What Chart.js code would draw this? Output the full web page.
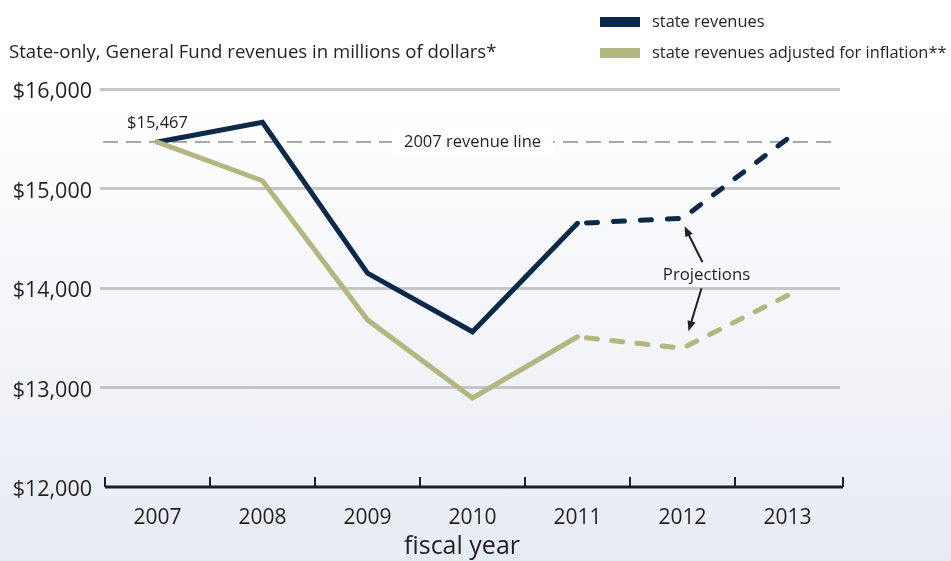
<!DOCTYPE html>
<html>
<head>
<meta charset="utf-8">
<title>State-only General Fund revenues</title>
<script src="https://cdn.jsdelivr.net/npm/chart.js"></script>
<style>
    body { margin: 0; padding: 0; background: linear-gradient(to bottom, #ffffff 0%, #ffffff 18%, #e7ebf3 100%); }
    #wrap { position: relative; width: 951px; height: 561px; }
</style>
</head>
<body>
<div id="wrap">
    <canvas id="revChart" width="951" height="561"></canvas>
</div>

<script>
    // fiscal years on the x axis
    var years = ['2007', '2008', '2009', '2010', '2011', '2012', '2013'];

    // millions of dollars
    var stateRevenues    = [15467, 15665, 14150, 13560, 14650, 14700, 15500];
    var adjustedRevenues = [15467, 15078, 13680, 12895, 13510, 13395, 13925];

    var yTicks = [12000, 13000, 14000, 15000, 16000];
    var baseRevenue = 15467;      // 2007 revenue line
    var lastActual = 4;           // index of 2011, dashed after this

    var chartTitle = 'State-only, General Fund revenues in millions of dollars*';
    var seriesNames = ['state revenues', 'state revenues adjusted for inflation**'];
    var refLabel = '2007 revenue line';
    var projLabel = 'Projections';
    var xTitle = 'fiscal year';

    var navy = '#0c2949';
    var khaki = '#b3b77f';
    var ink = '#231f20';
    var fontName = '"Open Sans", sans-serif';

    function money(v) {
        return '$' + Number(v).toLocaleString('en-US');
    }

    function arrow(ctx, x1, y1, x2, y2) {
        var ang = Math.atan2(y2 - y1, x2 - x1);
        var len = 11, spread = 0.38;
        ctx.beginPath();
        ctx.moveTo(x1, y1);
        ctx.lineTo(x2 - Math.cos(ang) * 6, y2 - Math.sin(ang) * 6);
        ctx.stroke();
        ctx.beginPath();
        ctx.moveTo(x2, y2);
        ctx.lineTo(x2 - len * Math.cos(ang - spread), y2 - len * Math.sin(ang - spread));
        ctx.lineTo(x2 - len * Math.cos(ang + spread), y2 - len * Math.sin(ang + spread));
        ctx.closePath();
        ctx.fill();
    }

    // reference line, x axis, labels, arrows, title and legend
    var extras = {
        id: 'extras',
        beforeDatasetsDraw: function(chart) {
            var ctx = chart.ctx, area = chart.chartArea;
            var xs = chart.scales.x, ys = chart.scales.y;
            var yBase = ys.getPixelForValue(baseRevenue);
            var labelX = xs.getPixelForValue(3);
            ctx.save();

            // 2007 revenue line
            ctx.strokeStyle = '#8c8c8c';
            ctx.lineWidth = 1.6;
            ctx.setLineDash([15, 8]);
            ctx.beginPath();
            ctx.moveTo(area.left - 2, yBase);
            ctx.lineTo(area.right - 5, yBase);
            ctx.stroke();
            ctx.setLineDash([]);

            ctx.font = '16.5px ' + fontName;
            var w = ctx.measureText(refLabel).width;
            ctx.fillStyle = 'rgba(255,255,255,0.97)';
            ctx.fillRect(labelX - w / 2 - 12, yBase - 12, w + 24, 25);
            ctx.fillStyle = ink;
            ctx.textAlign = 'center';
            ctx.textBaseline = 'middle';
            ctx.fillText(refLabel, labelX, yBase);

            // $15,467 label over the first point
            ctx.fillText(money(baseRevenue), xs.getPixelForValue(0), yBase - 19);

            // x axis with upward ticks at category borders
            var half = (xs.getPixelForValue(1) - xs.getPixelForValue(0)) / 2;
            ctx.strokeStyle = ink;
            ctx.lineWidth = 3;
            ctx.beginPath();
            ctx.moveTo(area.left, area.bottom);
            ctx.lineTo(area.right + 3, area.bottom);
            ctx.stroke();
            ctx.lineWidth = 2;
            for (var i = 0; i <= years.length; i++) {
                var tx = i < years.length ? xs.getPixelForValue(i) - half : xs.getPixelForValue(years.length - 1) + half + 3;
                ctx.beginPath();
                ctx.moveTo(tx, area.bottom);
                ctx.lineTo(tx, area.bottom - 10);
                ctx.stroke();
            }
            ctx.restore();
        },
        afterDatasetsDraw: function(chart) {
            var ctx = chart.ctx;
            var xs = chart.scales.x, ys = chart.scales.y;
            var px = xs.getPixelForValue(5);
            var yTop = ys.getPixelForValue(stateRevenues[5]);
            var yLow = ys.getPixelForValue(adjustedRevenues[5]);
            ctx.save();
            ctx.font = '16.8px ' + fontName;
            ctx.fillStyle = ink;
            ctx.strokeStyle = ink;
            ctx.lineWidth = 2;
            ctx.textAlign = 'center';
            ctx.textBaseline = 'middle';
            var ly = (yTop + yLow) / 2;
            ctx.fillText(projLabel, px + 24, ly - 8);
            arrow(ctx, px + 20, ly - 21, px + 2, yTop + 8);
            arrow(ctx, px + 19, ly + 5, px + 6, yLow - 17);
            ctx.restore();
        },
        afterDraw: function(chart) {
            var ctx = chart.ctx;
            ctx.save();
            ctx.fillStyle = ink;
            ctx.textBaseline = 'middle';
            ctx.textAlign = 'left';
            ctx.font = '18.6px ' + fontName;
            ctx.fillText(chartTitle, 9, 53);

            ctx.font = '16.4px ' + fontName;
            ctx.fillStyle = navy;
            ctx.fillRect(600, 17, 40, 10);
            ctx.fillStyle = khaki;
            ctx.fillRect(600, 48, 40, 10);
            ctx.fillStyle = ink;
            ctx.fillText(seriesNames[0], 652, 22);
            ctx.fillText(seriesNames[1], 652, 53);

            ctx.font = '25px ' + fontName;
            ctx.textAlign = 'center';
            ctx.fillText(xTitle, 462, 547);
            ctx.restore();
        }
    };

    function dashAfter(pattern) {
        return function(ctx) {
            return ctx.p0DataIndex >= lastActual ? pattern : undefined;
        };
    }

    var config = {
        type: 'line',
        data: {
            labels: years,
            datasets: [
                {
                    label: seriesNames[1],
                    data: adjustedRevenues,
                    borderColor: khaki,
                    backgroundColor: khaki,
                    borderWidth: 5,
                    borderJoinStyle: 'miter',
                    borderCapStyle: 'round',
                    pointRadius: 0,
                    tension: 0,
                    segment: { borderDash: dashAfter([11, 14.4]), borderDashOffset: 16.4 }
                },
                {
                    label: seriesNames[0],
                    data: stateRevenues,
                    borderColor: navy,
                    backgroundColor: navy,
                    borderWidth: 5,
                    borderJoinStyle: 'miter',
                    borderCapStyle: 'round',
                    pointRadius: 0,
                    tension: 0,
                    segment: { borderDash: dashAfter([11, 16]), borderDashOffset: 18 }
                }
            ]
        },
        options: {
            responsive: false,
            animation: false,
            devicePixelRatio: 1,
            layout: { padding: { left: 0, right: 111, top: 89, bottom: 0 } },
            plugins: {
                legend: { display: false },
                tooltip: { enabled: false }
            },
            scales: {
                x: {
                    type: 'category',
                    offset: true,
                    grid: { display: false },
                    border: { display: false },
                    ticks: {
                        color: ink,
                        font: { family: fontName, size: 21 },
                        padding: 10,
                        maxRotation: 0
                    },
                    afterFit: function(s) { s.height = 74; }
                },
                y: {
                    min: yTicks[0],
                    max: yTicks[yTicks.length - 1],
                    border: { display: false },
                    grid: {
                        color: function(c) { return c.tick && c.tick.value === yTicks[0] ? 'rgba(0,0,0,0)' : '#c6c6c6'; },
                        lineWidth: 3,
                        tickLength: 5
                    },
                    afterBuildTicks: function(s) {
                        s.ticks = yTicks.map(function(v) { return { value: v }; });
                    },
                    ticks: {
                        color: ink,
                        font: { family: fontName, size: 21.5 },
                        padding: 8,
                        labelOffset: 3,
                        callback: function(v) { return money(v); }
                    },
                    afterFit: function(s) { s.width = 105; }
                }
            }
        },
        plugins: [extras]
    };

    var revChart = new Chart(document.getElementById('revChart'), config);
</script>
</body>
</html>
